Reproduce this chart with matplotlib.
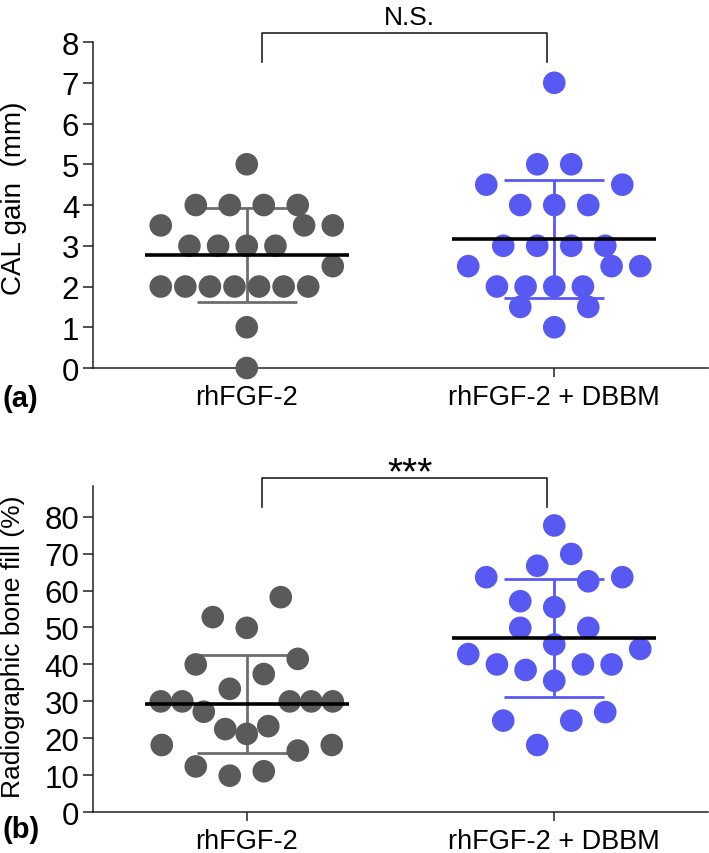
import numpy as np
import matplotlib
matplotlib.use("Agg")
import matplotlib.pyplot as plt

plt.rcParams["font.family"] = ["Liberation Sans", "DejaVu Sans"]

# data
groups = ["rhFGF-2", "rhFGF-2 + DBBM"]

cal_fgf2 = [5, 4, 4, 4, 4, 3.5, 3.5, 3.5, 3, 3, 3, 3, 2.5,
            2, 2, 2, 2, 2, 2, 2, 1, 0]
cal_dbbm = [7, 5, 5, 4.5, 4.5, 4, 4, 4, 3, 3, 3, 3, 2.5, 2.5, 2.5,
            2, 2, 2, 2, 1.5, 1.5, 1]

fill_fgf2 = [58.2, 52.8, 49.9, 41.5, 40.0, 37.4, 33.4, 30, 30, 30, 30, 30,
             27.2, 23.3, 22.5, 21.2, 18.2, 18.2, 16.7, 12.4, 11.1, 9.9]
fill_dbbm = [77.6, 69.9, 66.7, 63.6, 63.6, 62.5, 57.1, 55.5, 49.9, 49.9,
             45.4, 44.2, 42.8, 40, 40, 40, 38.5, 35.6, 27.1, 24.8, 24.8, 18.2]

sig_labels = ["N.S.", "***"]

gray = "#5a5a5a"
gray_bar = "#6e6e6e"
blue = "#5858f3"
line_col = "#222222"

DOT_STEP = 34    # px between dots in a row
ROW_GAP = 34     # px, values closer than this share a row
MAX_SPAN = 172   # px, widest row


def swarm_offsets(vals, px_x, px_y):
    # prism-like layout: rows of close values, smallest in the middle
    vals = np.asarray(vals, dtype=float)
    order = np.argsort(vals, kind="stable")
    rows = []
    start = None
    for i in order:
        if start is None or (vals[i] - start) * px_y > ROW_GAP:
            rows.append([])
            start = vals[i]
        rows[-1].append(i)
    offsets = np.zeros(len(vals))
    for row in rows:
        n = len(row)
        step = min(DOT_STEP, MAX_SPAN / (n - 1)) if n > 1 else 0
        mid = (n - 1) / 2
        slots = sorted(range(n), key=lambda k: (abs(k - mid), k))
        for idx, k in zip(row, slots):
            offsets[idx] = (k - mid) * step / px_x
    return offsets


fig = plt.figure(figsize=(7.09, 8.54), dpi=100)
ax_a = fig.add_axes([0.1312, 0.5679, 0.8674, 0.3817])
ax_b = fig.add_axes([0.1312, 0.0477, 0.8674, 0.3817])

panels = [
    (ax_a, [cal_fgf2, cal_dbbm], (0, 8), np.arange(0, 9, 1), "CAL gain  (mm)", 20,
     (7.5, 8.21), sig_labels[0], 8.62, 19, "(a)", 0.533, (-0.107, 0.525)),
    (ax_b, [fill_fgf2, fill_dbbm], (0, 88.2), np.arange(0, 90, 10), "Radiographic bone fill (%)", 19,
     (82.5, 90.4), sig_labels[1], 91.8, 28, "(b)", 0.028, (-0.111, 0.511)),
]

for (ax, series, ylim, yticks, ylabel, ylab_fs, brk, sig, sig_y, sig_fs,
     tag, tag_y, lab_xy) in panels:
    ax.set_xlim(0.5, 2.5)
    ax.set_ylim(*ylim)

    bbox = ax.get_position()
    px_x = bbox.width * fig.get_figwidth() * fig.dpi / 2.0
    px_y = bbox.height * fig.get_figheight() * fig.dpi / (ylim[1] - ylim[0])

    for pos, vals, col, bar_col in zip([1, 2], series, [gray, blue], [gray_bar, blue]):
        vals = np.asarray(vals, dtype=float)
        mean = vals.mean()
        sd = vals.std(ddof=1)
        xs = pos + swarm_offsets(vals, px_x, px_y)

        ax.errorbar(pos, mean, yerr=sd, fmt="none", ecolor=bar_col,
                    elinewidth=2, capsize=36, capthick=2, zorder=2)
        ax.scatter(xs, vals, s=265, color=col, edgecolors="none",
                   zorder=3, clip_on=False)
        ax.hlines(mean, pos - 0.332, pos + 0.332, color="black",
                  linewidth=2.6, zorder=4)

    # significance bracket
    ax.plot([1.05, 1.05, 1.975, 1.975], [brk[0], brk[1], brk[1], brk[0]],
            color=line_col, linewidth=1.2, clip_on=False)
    ax.text(1.53, sig_y, sig, ha="center", va="center", fontsize=sig_fs,
            clip_on=False)

    ax.set_xticks([1, 2])
    ax.set_xticklabels(groups, fontsize=19.5)
    ax.set_yticks(yticks)
    ax.tick_params(axis="y", labelsize=22.5, length=7, width=1.1, pad=3,
                   color=line_col)
    ax.tick_params(axis="x", length=6.5, width=1.1, pad=5, color=line_col)
    ax.set_ylabel(ylabel, fontsize=ylab_fs)
    ax.yaxis.set_label_coords(*lab_xy)

    for side in ["top", "right"]:
        ax.spines[side].set_visible(False)
    for side in ["left", "bottom"]:
        ax.spines[side].set_linewidth(1.1)
        ax.spines[side].set_color(line_col)

    fig.text(0.004, tag_y, tag, fontsize=21, fontweight="bold", va="center")

fig.savefig("out.png", dpi=100)
